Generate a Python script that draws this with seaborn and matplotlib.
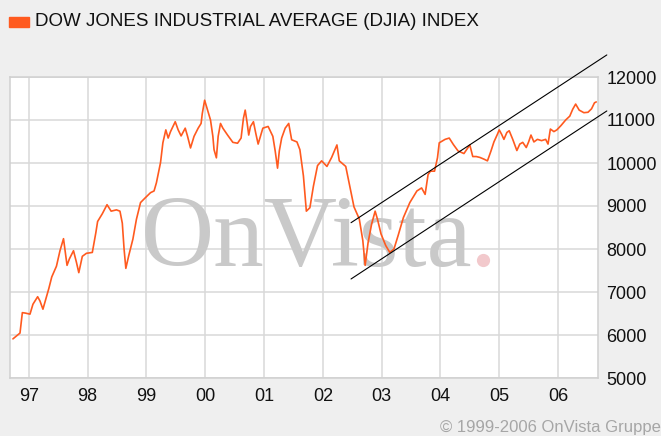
import numpy as np
import pandas as pd
import matplotlib
matplotlib.use("Agg")
import matplotlib.pyplot as plt
import seaborn as sns
from matplotlib.patches import Rectangle

# Werte (Zeit als Dezimaljahr)
years = [1996.73, 1996.85, 1996.89, 1996.94, 1997.02, 1997.07, 1997.15, 1997.19,
         1997.24, 1997.34, 1997.39, 1997.47, 1997.53, 1997.59, 1997.65, 1997.69,
         1997.76, 1997.81, 1997.85, 1997.91, 1997.98, 1998.08, 1998.14, 1998.17,
         1998.25, 1998.33, 1998.40, 1998.49, 1998.55, 1998.59, 1998.62, 1998.65,
         1998.70, 1998.77, 1998.83, 1998.90, 1998.98, 1999.07, 1999.13, 1999.17,
         1999.24, 1999.28, 1999.33, 1999.37, 1999.41, 1999.49, 1999.54, 1999.59,
         1999.66, 1999.70, 1999.75, 1999.81, 1999.88, 1999.93, 1999.95, 1999.99,
         2000.04, 2000.09, 2000.13, 2000.15, 2000.19, 2000.22, 2000.26, 2000.30,
         2000.38, 2000.47, 2000.55, 2000.61, 2000.65, 2000.68, 2000.71, 2000.74,
         2000.77, 2000.82, 2000.86, 2000.90, 2000.98, 2001.07, 2001.15, 2001.19,
         2001.23, 2001.26, 2001.30, 2001.36, 2001.42, 2001.47, 2001.56, 2001.61,
         2001.67, 2001.72, 2001.78, 2001.84, 2001.91, 2001.98, 2002.07, 2002.15,
         2002.24, 2002.28, 2002.39, 2002.46, 2002.53, 2002.62, 2002.68, 2002.72,
         2002.77, 2002.83, 2002.89, 2002.93, 2002.99, 2003.07, 2003.14, 2003.21,
         2003.28, 2003.37, 2003.48, 2003.60, 2003.68, 2003.74, 2003.79, 2003.83,
         2003.90, 2003.95, 2003.98, 2004.08, 2004.15, 2004.22, 2004.30, 2004.40,
         2004.46, 2004.50, 2004.55, 2004.61, 2004.67, 2004.74, 2004.80, 2004.86,
         2004.91, 2004.97, 2005.00, 2005.04, 2005.08, 2005.13, 2005.17, 2005.23,
         2005.30, 2005.35, 2005.40, 2005.46, 2005.50, 2005.54, 2005.59, 2005.65,
         2005.72, 2005.79, 2005.83, 2005.87, 2005.93, 2005.98, 2006.05, 2006.13,
         2006.20, 2006.25, 2006.30, 2006.36, 2006.44, 2006.51, 2006.57, 2006.62,
         2006.65]
djia = [5910, 6045, 6520, 6510, 6485, 6715, 6890, 6790,
        6600, 7080, 7350, 7600, 7960, 8240, 7620, 7770,
        7960, 7690, 7450, 7830, 7900, 7920, 8380, 8640,
        8820, 9030, 8880, 8910, 8880, 8600, 8000, 7550,
        7850, 8230, 8690, 9080, 9190, 9310, 9350, 9540,
        10010, 10470, 10770, 10580, 10730, 10960, 10770, 10630,
        10810, 10620, 10350, 10620, 10810, 10920, 11150, 11460,
        11230, 11000, 10620, 10310, 10120, 10620, 10920, 10810,
        10650, 10480, 10460, 10580, 11040, 11230, 10960, 10650,
        10850, 10960, 10690, 10440, 10810, 10850, 10620, 10280,
        9880, 10280, 10580, 10810, 10920, 10540, 10490, 10310,
        9700, 8880, 8960, 9460, 9940, 10050, 9920, 10130,
        10420, 10050, 9920, 9450, 8980, 8700, 8200, 7620,
        8150, 8580, 8880, 8690, 8350, 8080, 7920, 8000,
        8310, 8730, 9080, 9350, 9420, 9270, 9730, 9810,
        9810, 10120, 10470, 10550, 10580, 10430, 10280, 10220,
        10340, 10420, 10150, 10150, 10130, 10090, 10050, 10280,
        10490, 10670, 10770, 10670, 10550, 10710, 10750, 10550,
        10290, 10440, 10480, 10360, 10490, 10650, 10490, 10550,
        10520, 10550, 10440, 10790, 10730, 10770, 10870, 11000,
        11090, 11250, 11370, 11230, 11170, 11180, 11260, 11400,
        11420]

# Trendkanal (Start/Ende)
channel_years = [2002.48, 2006.83]
channel_upper = [8612, 12513]
channel_lower = [7303, 11210]

tick_years = [1997, 1998, 1999, 2000, 2001, 2002, 2003, 2004, 2005, 2006]
tick_labels = ["97", "98", "99", "00", "01", "02", "03", "04", "05", "06"]
y_ticks = [5000, 6000, 7000, 8000, 9000, 10000, 11000, 12000]

bg = "#efefef"
orange = "#ff5a1f"

sns.set_style("white")
plt.rcParams["font.family"] = ["Liberation Sans", "DejaVu Sans"]

fig = plt.figure(figsize=(6.61, 4.36), dpi=100, facecolor=bg)
ax = fig.add_axes([10 / 661, 1 - 378 / 436, 588 / 661, 301 / 436])
ax.set_facecolor("white")

df = pd.DataFrame({"year": years, "djia": djia})

# Wasserzeichen
ax.text(0.222, 0.372, "OnVista", transform=ax.transAxes, fontsize=73,
        family="Liberation Serif", color="#c9c9c9", zorder=1.5)
ax.plot([0.804], [0.392], "o", transform=ax.transAxes, ms=8.5,
        color="#f2c9cc", zorder=1.5)

sns.lineplot(data=df, x="year", y="djia", ax=ax, color=orange,
             linewidth=1.2, zorder=3)
ax.plot(channel_years, channel_upper, color="black", lw=0.8, clip_on=False, zorder=4)
ax.plot(channel_years, channel_lower, color="black", lw=0.8, clip_on=False, zorder=4)

ax.set_xlim(1996.68, 2006.68)
ax.set_ylim(5000, 12000)
ax.set_xticks(tick_years)
ax.set_xticklabels(tick_labels)
ax.set_yticks(y_ticks)
ax.set_yticklabels([str(v) for v in y_ticks])
ax.yaxis.tick_right()
ax.tick_params(axis="both", length=0, labelsize=13, colors="#111111")
ax.tick_params(axis="y", pad=6)
ax.tick_params(axis="x", pad=7)
ax.grid(True, color="#d9d9d9", lw=1.1)
ax.set_axisbelow(True)
for s in ax.spines.values():
    s.set_color("#d0d0d0")
    s.set_linewidth(1.1)
ax.set_xlabel("")
ax.set_ylabel("")

# Legende oben links
fig.patches.append(Rectangle((9 / 661, 1 - 27.5 / 436), 20 / 661, 10.5 / 436,
                             transform=fig.transFigure, color=orange))
fig.text(35 / 661, 1 - 21 / 436, "DOW JONES INDUSTRIAL AVERAGE (DJIA) INDEX",
         fontsize=13.5, va="center", ha="left", color="#111111")
fig.text(1.0, 1 - 427 / 436, "\u00a9 1999-2006 OnVista Gruppe",
         fontsize=12, va="center", ha="right", color="#a6a6a6")

fig.savefig("out.png", dpi=100, facecolor=bg)
